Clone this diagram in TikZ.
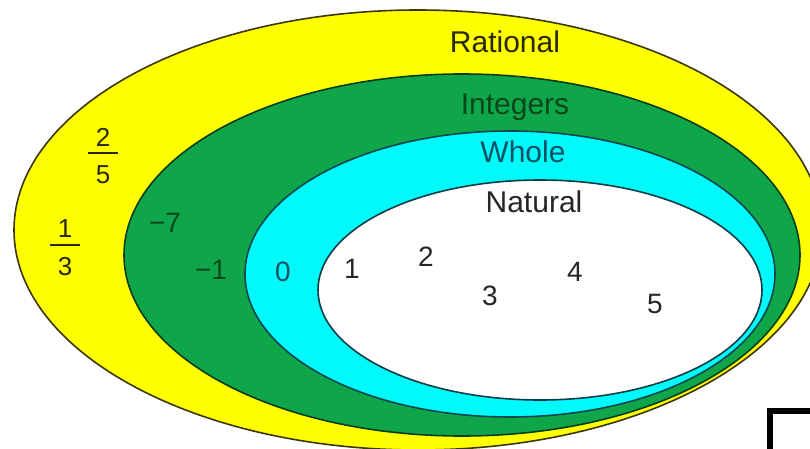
\documentclass[tikz,border=0pt]{standalone}
\usepackage{fontspec}
\setmainfont{Liberation Sans}
\definecolor{ratY}{RGB}{255,255,0}
\definecolor{ratEdge}{RGB}{60,55,10}
\definecolor{intG}{RGB}{14,166,72}
\definecolor{intEdge}{RGB}{12,60,30}
\definecolor{wholeC}{RGB}{0,250,250}
\definecolor{wholeEdge}{RGB}{10,70,80}
\definecolor{natEdge}{RGB}{15,60,70}
\definecolor{intText}{RGB}{10,70,30}
\definecolor{wholeText}{RGB}{5,80,100}
\definecolor{ratText}{RGB}{40,40,10}
\begin{document}
\begin{tikzpicture}[x=1pt,y=-1pt,
  setline/.style={line width=1.6pt},
  lbl/.style={inner sep=0pt, anchor=base, font=\fontsize{30}{36}\selectfont},
  num/.style={inner sep=0pt, font=\fontsize{28}{34}\selectfont},
  fracnum/.style={inner sep=0pt, font=\fontsize{26}{30}\selectfont, text=ratText},
  fracbar/.style={line width=2pt, draw=ratText}]
\useasboundingbox (0,0) rectangle (810,449);
\clip (0,0) rectangle (810,449);
\fill[white] (0,0) rectangle (810,449);
% nested sets
\draw[setline, draw=ratEdge, fill=ratY] (418,230) ellipse [x radius=404pt, y radius=220pt];
\draw[setline, draw=intEdge, fill=intG] (462,255) ellipse [x radius=338pt, y radius=181pt];
\draw[setline, draw=wholeEdge, fill=wholeC] (510,274) ellipse [x radius=265pt, y radius=143pt];
\draw[setline, draw=natEdge, fill=white] (540,290) ellipse [x radius=222pt, y radius=110pt];
% set labels
\node[lbl, text=ratText] (lrat) at (505,53) {Rational};
\node[lbl, text=intText] (lint) at (515,115) {Integers};
\node[lbl, text=wholeText] (lwhole) at (523,163) {Whole};
\node[lbl, text=black!85] (lnat) at (534,212) {Natural};
% fractions
\node[fracnum] (n25) at (103,137) {2};
\node[fracnum] (d25) at (103,175) {5};
\draw[fracbar] (88,153) -- (118,153);
\node[fracnum] (n13) at (65,229) {1};
\node[fracnum] (d13) at (65,267) {3};
\draw[fracbar] (50,245) -- (80,245);
% integers
\node[num, text=intText] (m7) at (165,223) {−7};
\node[num, text=intText] (m1) at (211,270) {−1};
% whole
\node[num, text=wholeText] (z0) at (283,272) {0};
% natural
\node[num, text=black!85] (k1) at (352,269) {1};
\node[num, text=black!85] (k2) at (426,257) {2};
\node[num, text=black!85] (k3) at (490,296) {3};
\node[num, text=black!85] (k4) at (575,272) {4};
\node[num, text=black!85] (k5) at (655,304) {5};
% corner mark
\draw[line width=6pt, black] (770,411) rectangle (840,480);
\end{tikzpicture}
\end{document}
